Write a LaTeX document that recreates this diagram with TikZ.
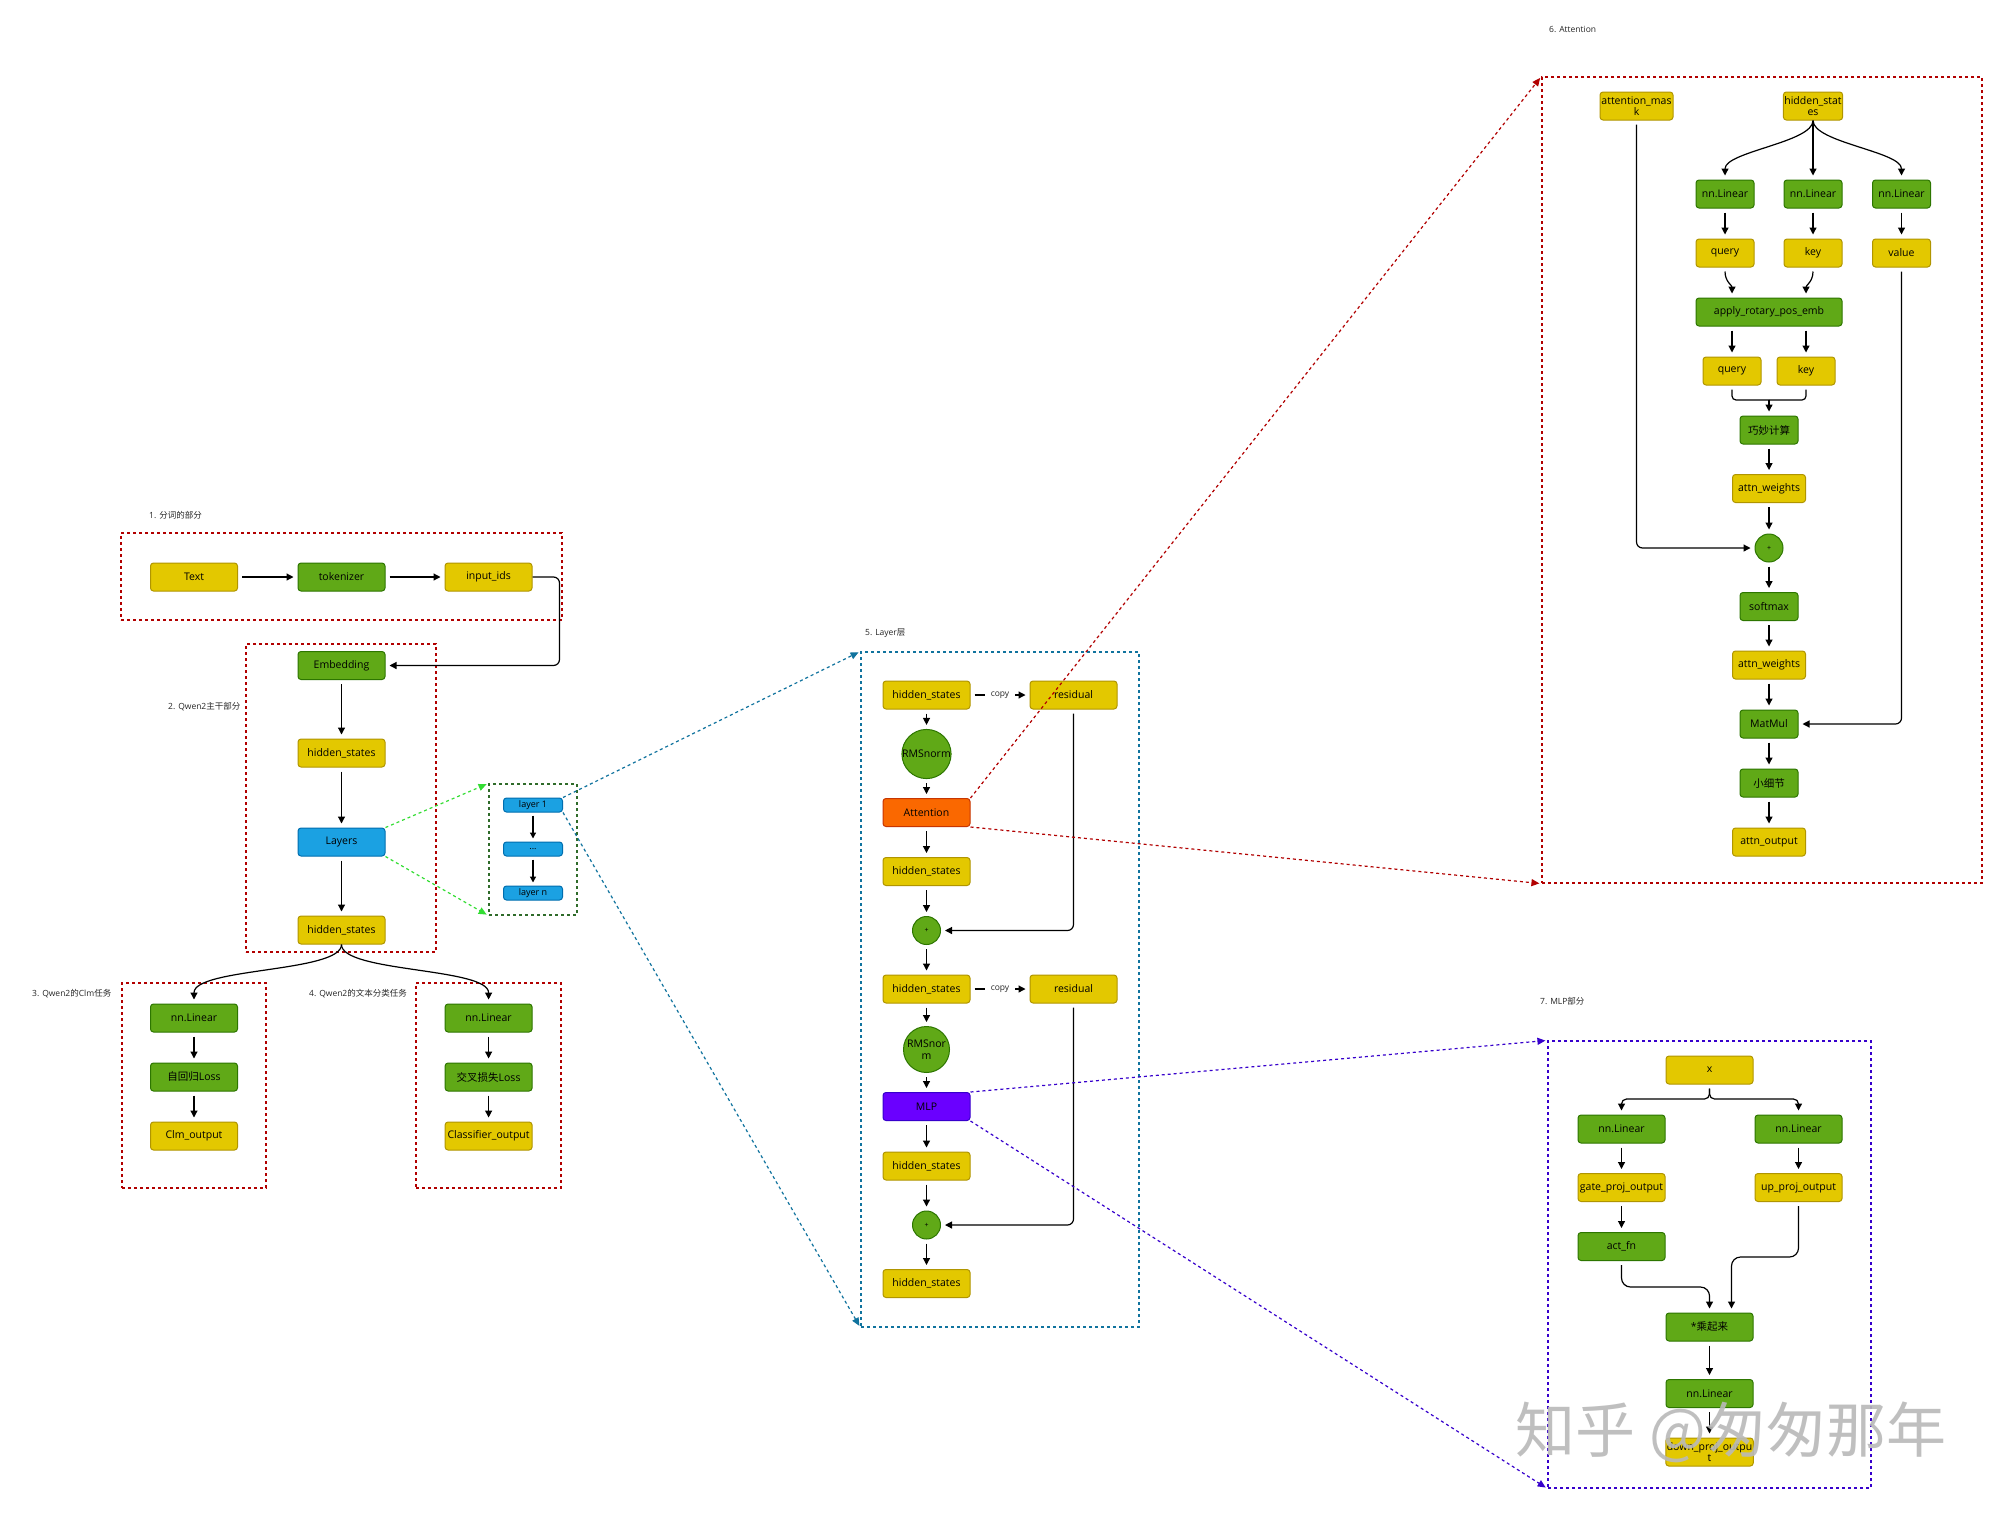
\documentclass[tikz,border=0pt]{standalone}
\usepackage{fontspec}
\setmainfont{Open Sans}
\newfontfamily\cjk{Noto Sans CJK SC}
\usetikzlibrary{arrows.meta,calc}
\definecolor{yelF}{HTML}{E3C800}
\definecolor{yelD}{HTML}{B09500}
\definecolor{grnF}{HTML}{60A917}
\definecolor{grnD}{HTML}{2D7600}
\definecolor{bluF}{HTML}{1BA1E2}
\definecolor{bluD}{HTML}{006EAF}
\definecolor{orgF}{HTML}{FA6800}
\definecolor{orgD}{HTML}{C73500}
\definecolor{purF}{HTML}{6A00FF}
\definecolor{purD}{HTML}{3700CC}
\definecolor{redC}{HTML}{B20000}
\definecolor{grnC}{HTML}{2F6B2A}
\definecolor{grnL}{HTML}{33DD33}
\definecolor{bluC}{HTML}{10739E}
\begin{document}
\begin{tikzpicture}[x=1pt,y=-1pt,
  box/.style={draw, rounded corners=3pt, line width=1pt, minimum width=87pt, minimum height=28pt,
    inner sep=1pt, align=center, font=\fontsize{10.5}{11.5}\selectfont, text=black},
  yel/.style={box, fill=yelF, draw=yelD},
  grn/.style={box, fill=grnF, draw=grnD},
  blu/.style={box, fill=bluF, draw=bluD},
  org/.style={box, fill=orgF, draw=orgD},
  pur/.style={box, fill=purF, draw=purD},
  sml/.style={blu, minimum width=59pt, minimum height=14pt, font=\fontsize{9}{10}\selectfont},
  circ/.style={circle, draw=grnD, fill=grnF, line width=1pt, inner sep=0pt, align=center,
    font=\fontsize{10.5}{11.5}\selectfont, text=black},
  cont/.style={draw, dash pattern=on 3pt off 3pt, line width=1.2pt, inner sep=0pt, rectangle},
  arr/.style={-{Triangle[length=7pt,width=7pt]}, line width=1.2pt, shorten <=4pt, shorten >=4pt},
  dcon/.style={dash pattern=on 3pt off 3pt, line width=1.2pt, -{Triangle[length=8pt,width=7pt]}, shorten >=2pt},
  lbl/.style={font=\fontsize{8.5}{10}\selectfont, anchor=west, text=black!85, inner sep=0pt},
  copylbl/.style={fill=white, inner xsep=6pt, inner ysep=1pt, font=\fontsize{8.5}{10}\selectfont, text=black!85}
]
\fill[white] (0,0) rectangle (2000,1513);
\useasboundingbox (0,0) rectangle (2000,1513);

% ---------- containers ----------
\node[cont, draw=redC, minimum width=441pt, minimum height=87pt] (c1) at (341.5,576.5) {};
\node[cont, draw=redC, minimum width=190pt, minimum height=308pt] (c2) at (341,798) {};
\node[cont, draw=grnC, minimum width=88pt, minimum height=131pt] (cL) at (533,849.5) {};
\node[cont, draw=redC, minimum width=144pt, minimum height=205pt] (c3) at (194,1085.5) {};
\node[cont, draw=redC, minimum width=145pt, minimum height=205pt] (c4) at (488.5,1085.5) {};
\node[cont, draw=bluC, minimum width=278pt, minimum height=675pt] (c5) at (1000,989.5) {};
\node[cont, draw=redC, minimum width=440pt, minimum height=806pt] (c6) at (1762,480) {};
\node[cont, draw=purD, minimum width=323pt, minimum height=447pt] (c7) at (1709.5,1264.5) {};

% ---------- labels ----------
\node[lbl] (l1t) at (149,515) {1. {\cjk 分词的部分}};
\node[lbl] (l2t) at (168,707) {2. Qwen2{\cjk 主干部分}};
\node[lbl] (l3t) at (32,994) {3. Qwen2{\cjk 的}Clm{\cjk 任务}};
\node[lbl] (l4t) at (309,994) {4. Qwen2{\cjk 的文本分类任务}};
\node[lbl] (l5t) at (865,633) {5. Layer{\cjk 层}};
\node[lbl] (l6t) at (1549,29) {6. Attention};
\node[lbl] (l7t) at (1540,1001) {7. MLP{\cjk 部分}};

% ---------- 1 ----------
\node[yel] (text) at (194,577) {Text};
\node[grn] (tok) at (341.5,577) {tokenizer};
\node[yel] (ids) at (488.5,577) {input\_ids};
\draw[arr] (text) -- (tok);
\draw[arr] (tok) -- (ids);

% ---------- 2 ----------
\node[grn] (emb) at (341.5,665.5) {Embedding};
\node[yel] (hs1) at (341.5,753) {hidden\_states};
\node[blu] (layers) at (341.5,842) {Layers};
\node[yel] (hs2) at (341.5,930) {hidden\_states};
\draw[arr, rounded corners=6pt, shorten <=0pt] (ids.east) -- ++(27,0) |- (emb.east);
\draw[arr] (emb) -- (hs1);
\draw[arr] (hs1) -- (layers);
\draw[arr] (layers) -- (hs2);

\node[sml] (ly1) at (533,805) {layer 1};
\node[sml] (lyd) at (533,849) {...};
\node[sml] (lyn) at (533,893) {layer n};
\draw[arr, shorten <=3pt, shorten >=3pt, -{Triangle[length=6pt,width=6pt]}] (ly1) -- (lyd);
\draw[arr, shorten <=3pt, shorten >=3pt, -{Triangle[length=6pt,width=6pt]}] (lyd) -- (lyn);
\draw[dcon, draw=grnL, -{Triangle[length=8pt,width=7pt,fill=grnL]}] (layers.north east) -- (cL.north west);
\draw[dcon, draw=grnL, -{Triangle[length=8pt,width=7pt,fill=grnL]}] (layers.south east) -- (cL.south west);

% ---------- 3 / 4 ----------
\node[grn] (nlA) at (194,1018) {nn.Linear};
\node[grn] (lossA) at (194,1077) {{\cjk 自回归}Loss};
\node[yel] (outA) at (194,1136) {Clm\_output};
\node[grn] (nlB) at (488.6,1018) {nn.Linear};
\node[grn] (lossB) at (488.6,1077) {{\cjk 交叉损失}Loss};
\node[yel] (outB) at (488.6,1136) {Classifier\_output};
\draw[arr, shorten <=0pt] (hs2.south) .. controls +(0,28) and +(0,-36) .. (nlA.north);
\draw[arr, shorten <=0pt] (hs2.south) .. controls +(0,28) and +(0,-36) .. (nlB.north);
\draw[arr] (nlA) -- (lossA);
\draw[arr] (lossA) -- (outA);
\draw[arr] (nlB) -- (lossB);
\draw[arr] (lossB) -- (outB);

% ---------- 5 ----------
\node[yel] (lhs1) at (926.5,695) {hidden\_states};
\node[yel] (res1) at (1073.5,695) {residual};
\node[circ, minimum size=46pt] (rms1) at (926.5,754) {RMSnorm};
\node[org] (att) at (926.5,812.5) {Attention};
\node[yel] (lhs2) at (926.5,871.5) {hidden\_states};
\node[circ, minimum size=28pt, font=\fontsize{7}{8}\selectfont] (pl1) at (926.5,930.5) {+};
\node[yel] (lhs3) at (926.5,989) {hidden\_states};
\node[yel] (res2) at (1073.5,989) {residual};
\node[circ, minimum size=46pt] (rms2) at (926.5,1049.5) {RMSnor\\m};
\node[pur] (mlp) at (926.5,1106.5) {MLP};
\node[yel] (lhs4) at (926.5,1166) {hidden\_states};
\node[circ, minimum size=28pt, font=\fontsize{7}{8}\selectfont] (pl2) at (926.5,1225) {+};
\node[yel] (lhs5) at (926.5,1283.5) {hidden\_states};
\draw[arr] (lhs1) -- node[copylbl] {copy} (res1);
\draw[arr] (lhs3) -- node[copylbl] {copy} (res2);
\draw[arr] (lhs1) -- (rms1);
\draw[arr] (rms1) -- (att);
\draw[arr] (att) -- (lhs2);
\draw[arr] (lhs2) -- (pl1);
\draw[arr] (pl1) -- (lhs3);
\draw[arr] (lhs3) -- (rms2);
\draw[arr] (rms2) -- (mlp);
\draw[arr] (mlp) -- (lhs4);
\draw[arr] (lhs4) -- (pl2);
\draw[arr] (pl2) -- (lhs5);
\draw[arr, rounded corners=6pt] (res1.south) |- (pl1.east);
\draw[arr, rounded corners=6pt] (res2.south) |- (pl2.east);
\draw[dcon, draw=bluC, -{Triangle[length=8pt,width=7pt,fill=bluC]}] (ly1.north east) -- (c5.north west);
\draw[dcon, draw=bluC, -{Triangle[length=8pt,width=7pt,fill=bluC]}] (ly1.south east) -- (c5.south west);

% ---------- 6 ----------
\node[yel, minimum width=73pt] (am) at (1636.5,106) {attention\_mas\\k};
\node[yel, minimum width=58pt] (ahs) at (1813,106) {hidden\_stat\\es};
\node[grn, minimum width=58pt] (nq) at (1725,194) {nn.Linear};
\node[grn, minimum width=58pt] (nk) at (1813,194) {nn.Linear};
\node[grn, minimum width=58pt] (nv) at (1901.5,194) {nn.Linear};
\node[yel, minimum width=58pt] (q) at (1725,253) {query};
\node[yel, minimum width=58pt] (k) at (1813,253) {key};
\node[yel, minimum width=58pt] (v) at (1901.5,253) {value};
\node[grn, minimum width=146pt] (rot) at (1769,312) {apply\_rotary\_pos\_emb};
\node[yel, minimum width=58pt] (q2) at (1732,371) {query};
\node[yel, minimum width=58pt] (k2) at (1806,371) {key};
\node[grn, minimum width=58pt] (qm) at (1769,430) {\cjk 巧妙计算};
\node[yel, minimum width=73pt] (aw1) at (1769,488.5) {attn\_weights};
\node[circ, minimum size=28pt, font=\fontsize{7}{8}\selectfont] (pl3) at (1769,548) {+};
\node[grn, minimum width=58pt] (sm) at (1769,606.5) {softmax};
\node[yel, minimum width=73pt] (aw2) at (1769,665) {attn\_weights};
\node[grn, minimum width=58pt] (mm) at (1769,724) {MatMul};
\node[grn, minimum width=58pt] (xj) at (1769,783) {\cjk 小细节};
\node[yel, minimum width=73pt] (ao) at (1769,842) {attn\_output};
\draw[arr, shorten <=0pt] (ahs.south) .. controls +(0,22) and +(0,-28) .. (nq.north);
\draw[arr, shorten <=0pt] (ahs.south) -- (nk.north);
\draw[arr, shorten <=0pt] (ahs.south) .. controls +(0,22) and +(0,-28) .. (nv.north);
\draw[arr] (nq) -- (q);
\draw[arr] (nk) -- (k);
\draw[arr] (nv) -- (v);
\draw[arr] (q.south) .. controls +(0,14) and +(0,-12) .. (q2.north |- rot.north);
\draw[arr] (k.south) .. controls +(0,14) and +(0,-12) .. (k2.north |- rot.north);
\draw[arr] (q2.north |- rot.south) -- (q2.north);
\draw[arr] (k2.north |- rot.south) -- (k2.north);
\coordinate (mrg) at (1769,400);
\draw[line width=1.2pt, rounded corners=4pt, shorten <=4pt] (q2.south) |- (mrg);
\draw[line width=1.2pt, rounded corners=4pt, shorten <=4pt] (k2.south) |- (mrg);
\draw[arr, shorten <=0pt] (mrg) -- (qm.north);
\draw[arr] (qm) -- (aw1);
\draw[arr] (aw1) -- (pl3);
\draw[arr] (pl3) -- (sm);
\draw[arr] (sm) -- (aw2);
\draw[arr] (aw2) -- (mm);
\draw[arr] (mm) -- (xj);
\draw[arr] (xj) -- (ao);
\draw[arr, rounded corners=6pt] (am.south) |- (pl3.west);
\draw[arr, rounded corners=6pt] (v.south) |- (mm.east);
\draw[dcon, draw=redC, -{Triangle[length=8pt,width=7pt,fill=redC]}] (att.north east) -- (c6.north west);
\draw[dcon, draw=redC, -{Triangle[length=8pt,width=7pt,fill=redC]}] (att.south east) -- (c6.south west);

% ---------- 7 ----------
\node[yel] (mx) at (1709.5,1070) {x};
\node[grn] (mn1) at (1621.5,1129) {nn.Linear};
\node[grn] (mn2) at (1798.5,1129) {nn.Linear};
\node[yel] (gate) at (1621.5,1187.5) {gate\_proj\_output};
\node[yel] (up) at (1798.5,1187.5) {up\_proj\_output};
\node[grn] (act) at (1621.5,1246.5) {act\_fn};
\node[grn] (mul) at (1709.5,1327) {*{\cjk 乘起来}};
\node[grn] (mn3) at (1709.5,1393.5) {nn.Linear};
\node[yel] (down) at (1709.5,1452) {down\_proj\_outpu\\t};
\coordinate (xs) at (1709.5,1099);
\draw[arr, rounded corners=5pt] (mx.south) -- (xs) -| (mn1.north);
\draw[arr, rounded corners=5pt] (mx.south) -- (xs) -| (mn2.north);
\draw[arr] (mn1) -- (gate);
\draw[arr] (mn2) -- (up);
\draw[arr] (gate) -- (act);
\draw[arr, rounded corners=9pt] (act.south) -- ++(0,26) -| (mul.north);
\draw[arr, rounded corners=9pt] (up.south) -- ++(0,55) -| ($(mul.north)+(22,0)$);
\draw[arr] (mul) -- (mn3);
\draw[arr] (mn3) -- (down);
\draw[dcon, draw=purD, -{Triangle[length=8pt,width=7pt,fill=purD]}] (mlp.north east) -- (c7.north west);
\draw[dcon, draw=purD, -{Triangle[length=8pt,width=7pt,fill=purD]}] (mlp.south east) -- (c7.south west);

% ---------- watermark ----------
\node[text=gray!55, opacity=0.9, font=\cjk\fontsize{60}{60}\selectfont, inner sep=0pt] (wm) at (1731,1432) {知乎 @匆匆那年};
\end{tikzpicture}
\end{document}
